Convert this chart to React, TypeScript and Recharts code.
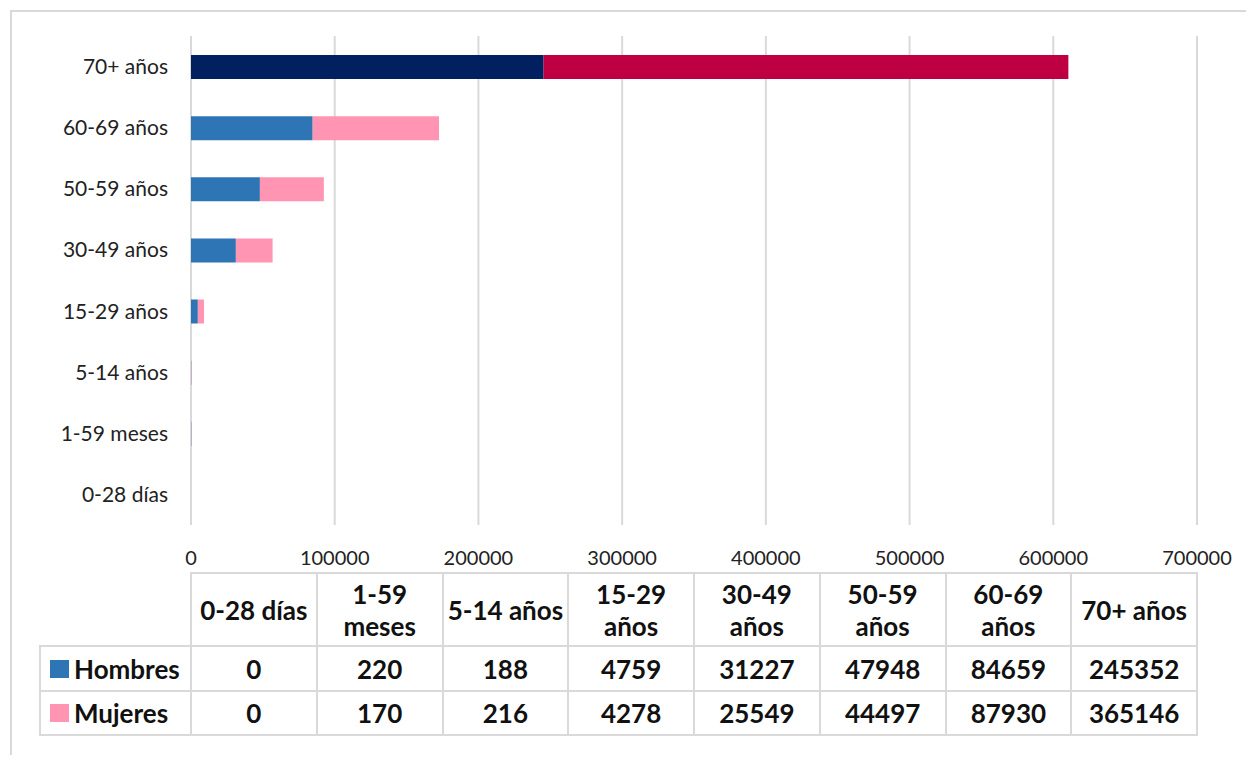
import React from 'react';
import { BarChart, Bar, XAxis, YAxis, CartesianGrid, Cell } from 'recharts';

const categories = [
  '0-28 días',
  '1-59 meses',
  '5-14 años',
  '15-29 años',
  '30-49 años',
  '50-59 años',
  '60-69 años',
  '70+ años',
];
const hombres = [0, 220, 188, 4759, 31227, 47948, 84659, 245352];
const mujeres = [0, 170, 216, 4278, 25549, 44497, 87930, 365146];
const seriesNames = ['Hombres', 'Mujeres'];
const xTicks = [0, 100000, 200000, 300000, 400000, 500000, 600000, 700000];
const highlighted = '70+ años';

const colors = { hombres: '#2E75B6', mujeres: '#FF95B3' };
const highlightColors = { hombres: '#002060', mujeres: '#BE0042' };

const data = categories.map((name, i) => ({
  name,
  hombres: hombres[i],
  mujeres: mujeres[i],
}));

const FONT = 'Lato, "Open Sans", sans-serif';
const GRID = '#D9D9D9';

// table geometry, aligned with the plot area
const plotLeft = 191;
const plotRight = 1197;
const colW = (plotRight - plotLeft) / categories.length;
const legendLeft = 40;
const rowY = [573, 646, 691, 735];

function cellStyle(left: number, top: number, width: number, height: number): React.CSSProperties {
  return {
    position: 'absolute',
    left: left - 1,
    top: top - 1,
    width: width + 2,
    height: height + 2,
    boxSizing: 'border-box',
    border: `2px solid ${GRID}`,
    display: 'flex',
    alignItems: 'center',
    justifyContent: 'center',
    textAlign: 'center',
    fontWeight: 700,
    fontSize: 26,
    lineHeight: '32px',
    color: '#111',
    padding: '0 2px',
  };
}

function DataTable() {
  const rows = [hombres, mujeres];
  const swatches = [colors.hombres, colors.mujeres];
  return (
    <>
      {categories.map((c, i) => (
        <div key={c} style={cellStyle(plotLeft + i * colW, rowY[0], colW, rowY[1] - rowY[0])}>
          {c}
        </div>
      ))}
      {rows.map((vals, r) => (
        <React.Fragment key={seriesNames[r]}>
          <div
            style={{
              ...cellStyle(legendLeft, rowY[r + 1], plotLeft - legendLeft, rowY[r + 2] - rowY[r + 1]),
              justifyContent: 'flex-start',
              paddingLeft: 9,
            }}
          >
            <span style={{ display: 'inline-block', width: 19, height: 18, background: swatches[r], marginRight: 5 }} />
            {seriesNames[r]}
          </div>
          {vals.map((v, i) => (
            <div key={i} style={cellStyle(plotLeft + i * colW, rowY[r + 1], colW, rowY[r + 2] - rowY[r + 1])}>
              {v}
            </div>
          ))}
        </React.Fragment>
      ))}
    </>
  );
}

export default function App() {
  return (
    <div
      style={{
        position: 'relative',
        width: 1254,
        height: 763,
        margin: -8,
        overflow: 'hidden',
        background: '#fff',
        fontFamily: FONT,
      }}
    >
      <div style={{ position: 'absolute', left: 12, top: -18, fontSize: 24, color: '#595959' }}>2019</div>
      <div
        style={{
          position: 'absolute',
          left: 10,
          top: 10,
          width: 1400,
          height: 900,
          border: `2px solid ${GRID}`,
          boxSizing: 'border-box',
        }}
      />
      <div style={{ position: 'absolute', left: 0, top: 0 }}>
        <BarChart
          width={1254}
          height={581}
          data={data}
          layout="vertical"
          margin={{ top: 36, right: 57, bottom: 0, left: 0 }}
          barSize={24}
        >
          <CartesianGrid horizontal={false} stroke={GRID} strokeWidth={2} />
          <XAxis
            type="number"
            domain={[0, 700000]}
            ticks={xTicks}
            interval={0}
            axisLine={false}
            tickLine={false}
            height={56}
            tickMargin={20}
            tick={{ fill: '#222', fontSize: 20, fontFamily: FONT }}
          />
          <YAxis
            type="category"
            dataKey="name"
            reversed
            width={191}
            axisLine={false}
            tickLine={false}
            tickMargin={17}
            interval={0}
            tick={{ fill: '#222', fontSize: 21, fontFamily: FONT }}
          />
          <Bar dataKey="hombres" stackId="a" isAnimationActive={false}>
            {data.map((d) => (
              <Cell key={d.name} fill={d.name === highlighted ? highlightColors.hombres : colors.hombres} />
            ))}
          </Bar>
          <Bar dataKey="mujeres" stackId="a" isAnimationActive={false}>
            {data.map((d) => (
              <Cell key={d.name} fill={d.name === highlighted ? highlightColors.mujeres : colors.mujeres} />
            ))}
          </Bar>
        </BarChart>
      </div>
      <DataTable />
    </div>
  );
}
